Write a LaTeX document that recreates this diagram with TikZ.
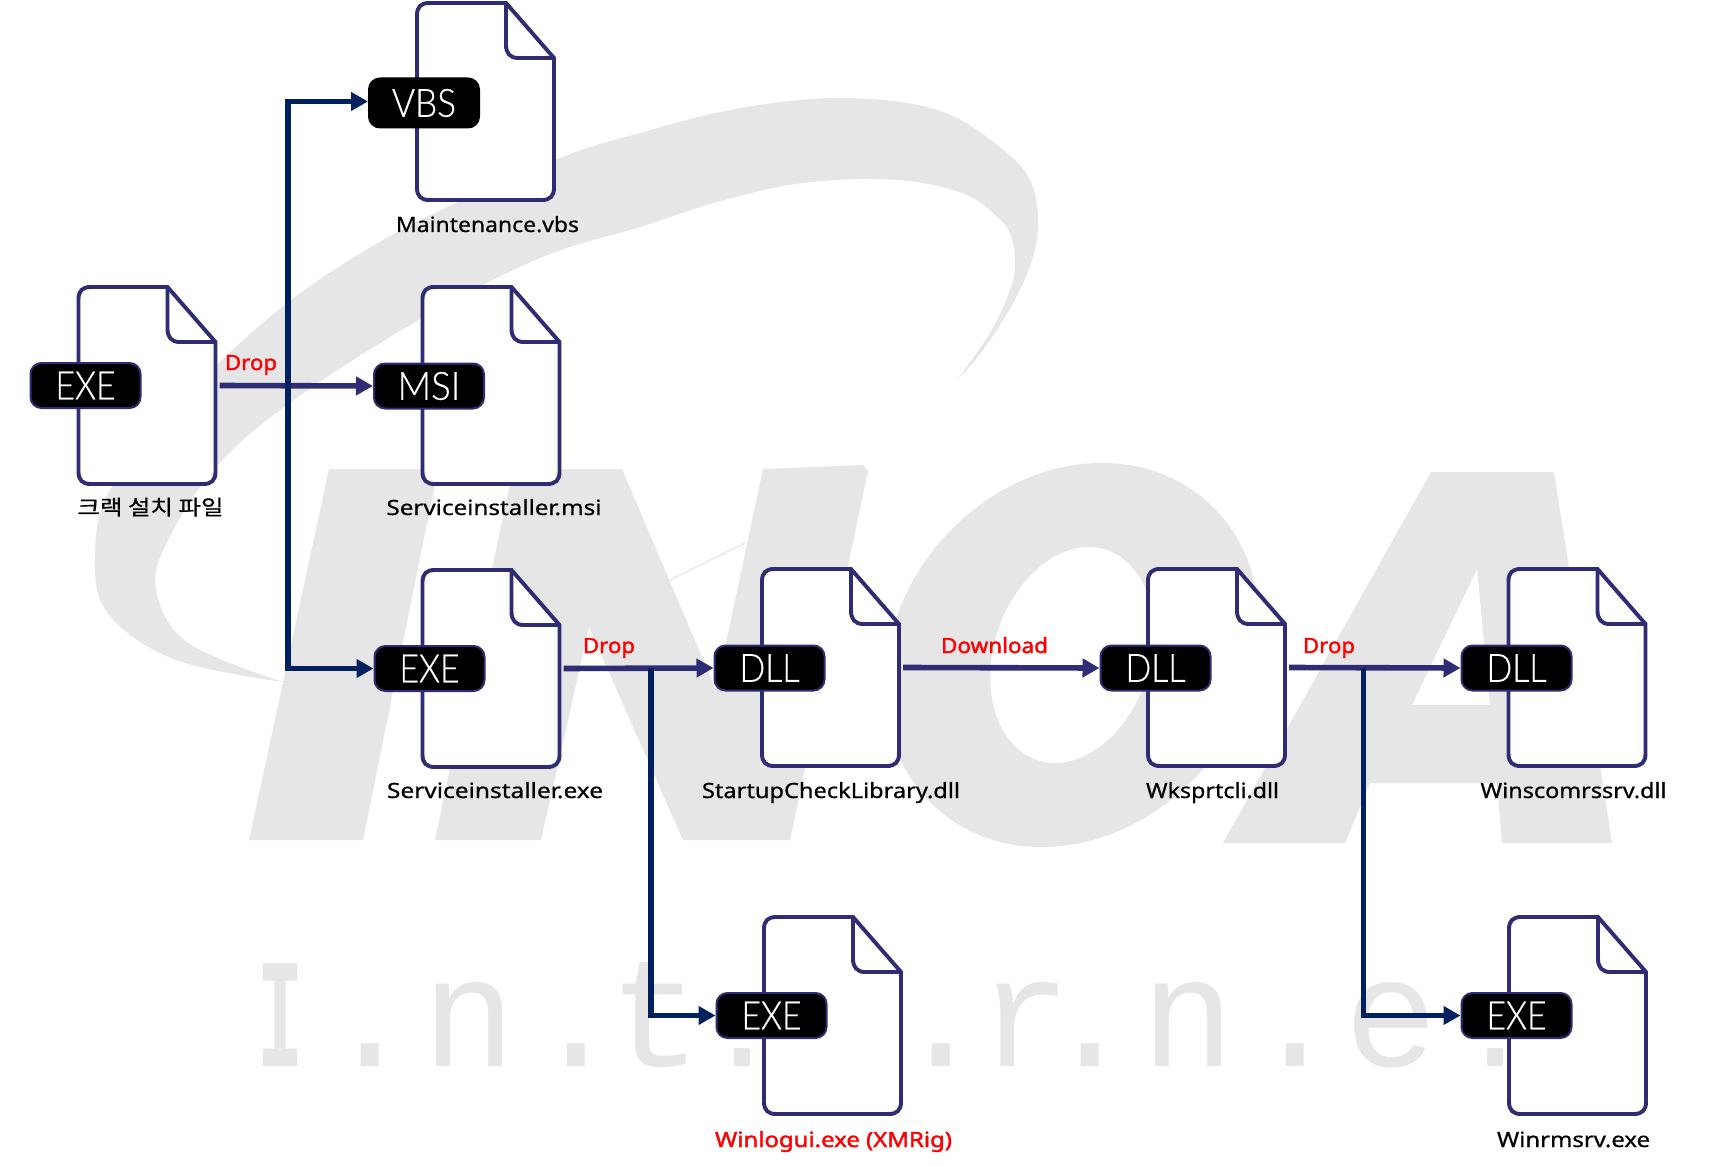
\documentclass[tikz,border=0pt]{standalone}
\usepackage{fontspec}
\usepackage{graphicx}
\usetikzlibrary{arrows.meta}
\setmainfont{Noto Sans}
\newfontfamily\lblfont{Noto Sans}[FakeBold=0.6]
\newfontfamily\redfont{Noto Sans}[FakeBold=1.6]
\newfontfamily\krfont{Noto Sans CJK KR}[FakeBold=0.6]
\newfontfamily\wmfont{Liberation Mono}
\newfontfamily\thinfont{Lato Light}[FakeBold=0.5]
\definecolor{indigoline}{HTML}{2E2C74}
\definecolor{navyline}{HTML}{002060}
\definecolor{wmgray}{HTML}{E6E6E6}
\tikzset{
  x=1pt,y=-1pt,
  wm/.style={fill=wmgray,draw=none},
  wmtxt/.style={inner sep=0pt,text=wmgray,font=\wmfont\fontsize{156}{156}\selectfont},
  filebox/.style={rectangle,draw=none,inner sep=0pt,minimum width=137pt,minimum height=197pt},
  fileline/.style={draw=indigoline,line width=3.9pt,fill=white,line join=miter},
  badge/.style={rectangle,rounded corners=11pt,fill=black,draw=indigoline,line width=2pt,text=white,
    minimum width=110pt,minimum height=45pt,inner sep=0pt,font=\thinfont\fontsize{39}{39}\selectfont},
  flabel/.style={anchor=base,inner sep=0pt,text=black,font=\lblfont\fontsize{21}{21}\selectfont},
  droplabel/.style={anchor=base,inner sep=0pt,text=red,font=\redfont\fontsize{21}{21}\selectfont},
  conn/.style={draw=indigoline,line width=5.6pt,-{Triangle[length=17pt,width=18pt]}},
  trunk/.style={draw=navyline,line width=5.2pt,-{Triangle[length=17pt,width=18pt]}}
}
\newcommand\docicon[3]{%
  \node[filebox] (#1) at (#2+68.5,#3+98.5) {};
  \begin{scope}[shift={(#2,#3)}]
    \draw[fileline] (0,12) .. controls (0,4) and (4,0) .. (12,0) -- (89,0) -- (137,55) -- (137,185)
      .. controls (137,193) and (133,197) .. (125,197) -- (12,197)
      .. controls (4,197) and (0,193) .. (0,185) -- cycle;
    \draw[fileline,fill=none] (89,0) -- (89,42) .. controls (89,50) and (93,55) .. (101,55) -- (137,55);
  \end{scope}%
}
\newcommand\fitw[2]{\resizebox{#1pt}{\height}{#2}}
\begin{document}
\begin{tikzpicture}
\useasboundingbox (0,0) rectangle (1724,1166);
\fill[white] (0,0) rectangle (1724,1166);
% watermark: swoosh
\fill[wm] plot[smooth,tension=0.6] coordinates {(283,682) (176,660) (110,616) (95,562) (111,488) (192,390) (286,304) (383,240) (480,192) (573,153) (640,133) (707,115) (773,103) (840,98) (907,103) (957,118) (1007,153) (1030,180) (1038,217) (1033,257) (1013,303) (983,350) (957,380)}
  -- plot[smooth,tension=0.6] coordinates {(957,380) (990,333) (1010,290) (1015,263) (1010,233) (993,213) (967,195) (923,183) (873,179) (823,181) (773,188) (707,205) (640,227) (540,258) (417,321) (291,402) (216,467) (168,540) (156,590) (188,643) (283,682)} -- cycle;
% watermark: letters
\fill[wm] (249,840) -- (329,469) -- (438,469) -- (363,840) -- cycle;
\fill[wm] (435,840) -- (513,469) -- (622,469) -- (716,690) -- (763,469) -- (863,465) -- (868,471) -- (790,840) -- (683,840) -- (589,627) -- (541,840) -- cycle;
\begin{scope}[shift={(1072,655)},xslant=0.156]
  \fill[wm,even odd rule] (0,0) ellipse [x radius=185pt,y radius=192pt] (0,0) ellipse [x radius=80pt,y radius=108pt];
\end{scope}
\fill[wm,even odd rule] (1223,843) -- (1431,472) -- (1554,472) -- (1612,843) -- (1502,843) -- (1497,783) -- (1370,783) -- (1345,843) -- cycle
  (1477,569) -- (1412,705) -- (1490,705) -- cycle;
\draw[color=white!92!black,line width=1.6pt] (670,580) -- (745,543);
\node[wmtxt,anchor=base] (wmi) at (280,1066) {\resizebox{46pt}{\height}{\bfseries I}};
\node[wmtxt,anchor=base west] (wmleft) at (323.2,1066) {.\kern5.4pt n\kern13.4pt.\kern-14.6pt t};
\node[wmtxt,anchor=base west] (wmright) at (894.2,1066) {.\kern-9.6pt r\kern-28.6pt.\kern4.4pt n\kern13.4pt.\kern2.4pt e};
\fill[wm,rounded corners=2pt] (734,1048) rectangle (750,1066);
\fill[wm,rounded corners=2pt] (1487,1048) rectangle (1503,1066);
% files
\docicon{fvbs}{417}{3}
\docicon{fcrack}{78.5}{287}
\docicon{fmsi}{422.5}{287}
\docicon{fexea}{422.5}{570}
\docicon{fdlla}{762}{569}
\docicon{fdllb}{1148}{569}
\docicon{fdllc}{1508.5}{569}
\docicon{fexeb}{764}{917}
\docicon{fexec}{1509}{917}
% badges
\node[badge,draw=black,minimum height=49pt] (bvbs) at (424,103) {\raisebox{-2pt}{\fitw{64}{VBS}}};
\node[badge] (bcrack) at (85.5,385.5) {\fitw{60}{EXE}};
\node[badge] (bmsi) at (429,386) {\fitw{63}{MSI}};
\node[badge] (bexea) at (429.5,668.5) {\fitw{60}{EXE}};
\node[badge] (bdlla) at (769.5,668) {\fitw{60}{DLL}};
\node[badge] (bdllb) at (1155.5,668) {\fitw{60}{DLL}};
\node[badge] (bdllc) at (1516.5,668) {\fitw{60}{DLL}};
\node[badge] (bexeb) at (771.5,1015.5) {\fitw{60}{EXE}};
\node[badge] (bexec) at (1516.5,1015.5) {\fitw{60}{EXE}};
% connectors
\coordinate (jmain) at (288,386);
\coordinate (jdrop) at (651,668);
\coordinate (jdropb) at (1363.7,668);
\draw[conn] ([xshift=4pt]fcrack.east) -- (bmsi.west);
\draw[trunk] (jmain) |- ([yshift=1.5pt]bvbs.west);
\draw[trunk] (jmain) |- (bexea.west);
\draw[conn] ([xshift=4pt]fexea.east) -- (bdlla.west);
\draw[trunk] (jdrop) |- (bexeb.west);
\draw[conn] ([xshift=4pt]fdlla.east) -- (bdllb.west);
\draw[conn] ([xshift=4pt]fdllb.east) -- (bdllc.west);
\draw[trunk] (jdropb) |- (bexec.west);
% labels
\node[flabel] (lvbs) at (487.5,232) {\fitw{183}{Maintenance.vbs}};
\node[flabel,font=\krfont\fontsize{21}{21}\selectfont] (lcrack) at (150.5,515) {\fitw{146}{크랙 설치 파일}};
\node[flabel] (lmsi) at (494,515) {\fitw{215}{Serviceinstaller.msi}};
\node[flabel] (lexea) at (495,798) {\fitw{216}{Serviceinstaller.exe}};
\node[flabel] (ldlla) at (831,798) {\fitw{258}{StartupCheckLibrary.dll}};
\node[flabel] (ldllb) at (1212.5,798) {\fitw{133}{Wksprtcli.dll}};
\node[flabel] (ldllc) at (1573.5,798) {\fitw{186}{Winscomrssrv.dll}};
\node[flabel,text=red,font=\redfont\fontsize{21}{21}\selectfont] (lexeb) at (833.5,1147) {\fitw{237}{Winlogui.exe (XMRig)}};
\node[flabel] (lexec) at (1573.5,1147) {\fitw{153}{Winrmsrv.exe}};
\node[droplabel] (da) at (251,370) {\fitw{52}{Drop}};
\node[droplabel] (db) at (609,653) {\fitw{52}{Drop}};
\node[droplabel] (dc) at (1329,653) {\fitw{52}{Drop}};
\node[droplabel] (dl) at (994.5,653) {\fitw{107}{Download}};
\end{tikzpicture}
\end{document}
